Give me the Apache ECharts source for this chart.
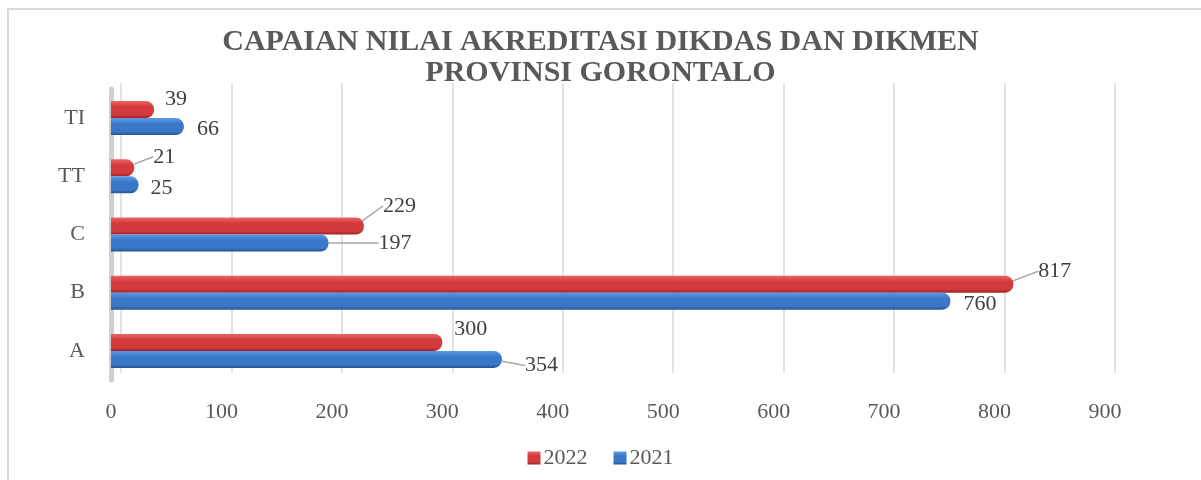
<!DOCTYPE html>
<html>
<head>
<meta charset="utf-8">
<script src="https://cdn.jsdelivr.net/npm/echarts@6.0.0/dist/echarts.min.js"></script>
<style>
  html, body { margin: 0; padding: 0; background: #fff; }
  #container { position: absolute; left: 0; top: 0; width: 1201px; height: 480px; }
  #frame { position: absolute; left: 7px; top: 8px; width: 1200px; height: 480px; border: 2px solid #d9d9d9; pointer-events: none; }
</style>
</head>
<body>
<div id="container"></div>
<div id="frame"></div>
<script>
// chart data
const categories = ['A', 'B', 'C', 'TT', 'TI'];
const values2022 = [300, 817, 229, 21, 39];
const values2021 = [354, 760, 197, 25, 66];
const xTicks = [0, 900, 100]; // min, max, interval

// label nudges (dx, dy) from the default 'right' spot, and whether a leader line shows
const shift2022 = [[7, -13, false], [20, -13, true], [14, -20, true], [14, -11, true], [6, -10, false]];
const shift2021 = [[18, 6, true], [8, 3, false], [45, 0, true], [7, 3, false], [8, 3, false]];

const font = '"Liberation Serif", "Times New Roman", serif';

function cyl(top, mid, bottom) {
    return new echarts.graphic.LinearGradient(0, 0, 0, 1, [
        { offset: 0, color: top },
        { offset: 0.35, color: mid },
        { offset: 0.8, color: mid },
        { offset: 1, color: bottom }
    ]);
}

function items(vals, shift) {
    return vals.map((v, i) => ({ value: v, labelLine: { show: shift[i][2] } }));
}

const lbl = { show: true, position: 'right', distance: 5, fontFamily: font, fontSize: 22, color: '#404040' };
const line = { show: true, lineStyle: { color: '#a6a6a6', width: 1.5 } };

const chart = echarts.init(document.getElementById('container'), null, { renderer: 'canvas' });

chart.setOption({
    animation: false,
    title: {
        text: 'CAPAIAN NILAI AKREDITASI DIKDAS DAN DIKMEN\nPROVINSI GORONTALO',
        left: 'center',
        top: 22,
        textStyle: { fontFamily: font, fontSize: 30, fontWeight: 'bold', color: '#595959', lineHeight: 31 }
    },
    legend: {
        bottom: 6,
        left: 'center',
        itemWidth: 13,
        itemHeight: 13,
        itemGap: 26,
        icon: 'rect',
        textStyle: { fontFamily: font, fontSize: 22, color: '#595959', padding: [0, 0, 0, -2] },
        data: ['2022', '2021']
    },
    grid: [
        { left: 111, right: 96, top: 89, bottom: 100 },
        { left: 121, right: 86, top: 83, bottom: 107 }
    ],
    xAxis: [
        {
            type: 'value', gridIndex: 0, min: xTicks[0], max: xTicks[1], interval: xTicks[2],
            axisLine: { show: false }, axisTick: { show: false }, splitLine: { show: false },
            axisLabel: { margin: 21, fontFamily: font, fontSize: 22, color: '#595959' }
        },
        {
            type: 'value', gridIndex: 1, min: xTicks[0], max: xTicks[1], interval: xTicks[2],
            axisLine: { show: false }, axisTick: { show: false }, axisLabel: { show: false },
            splitLine: { show: true, lineStyle: { color: '#d9d9d9', width: 1.5 } }
        }
    ],
    yAxis: [
        {
            type: 'category', gridIndex: 0, data: categories,
            axisLine: { show: true, lineStyle: { color: '#cfcfcf', width: 5 } },
            axisTick: { show: false },
            axisLabel: { margin: 26, fontFamily: font, fontSize: 22, color: '#595959', padding: [14, 0, 0, 0] }
        },
        {
            type: 'category', gridIndex: 1, data: categories, show: false
        }
    ],
    series: [
        {
            name: '2022', type: 'bar', xAxisIndex: 0, yAxisIndex: 0,
            data: items(values2022, shift2022),
            barWidth: 17, barGap: '0%',
            itemStyle: { color: cyl('#ec6466', '#d23a3c', '#9e2325'), borderRadius: [0, 8, 8, 0] },
            label: lbl, labelLine: line,
            labelLayout: p => ({ dx: shift2022[p.dataIndex][0], dy: shift2022[p.dataIndex][1] }),
            z: 3
        },
        {
            name: '2021', type: 'bar', xAxisIndex: 0, yAxisIndex: 0,
            data: items(values2021, shift2021),
            barWidth: 17, barGap: '0%',
            itemStyle: { color: cyl('#5c9ae6', '#3a77c8', '#25528f'), borderRadius: [0, 8, 8, 0] },
            label: lbl, labelLine: line,
            labelLayout: p => ({ dx: shift2021[p.dataIndex][0], dy: shift2021[p.dataIndex][1] }),
            z: 3
        }
    ]
});
</script>
</body>
</html>
